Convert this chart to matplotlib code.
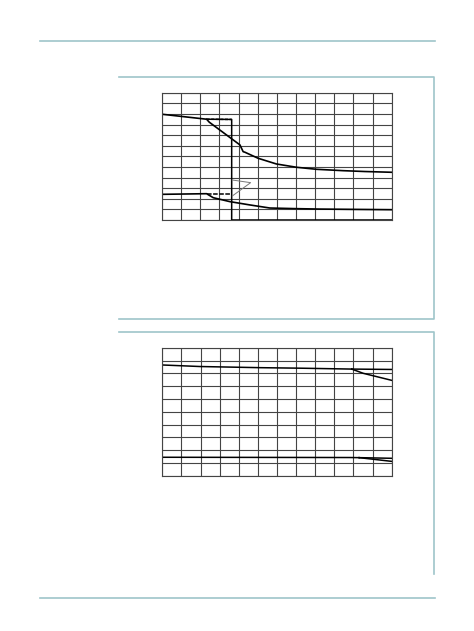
import matplotlib
matplotlib.use("Agg")
import matplotlib.pyplot as plt
from matplotlib.lines import Line2D
import numpy as np

# ---- Chart 1 data (arbitrary units; x 0..120, y 0..12) ----
c1_upper_x = [0, 23.3, 24.7, 40.7, 42.4, 43.3, 50.2, 59.8, 70.3, 80.7, 94.6, 106, 119.8]
c1_upper_y = [9.97, 9.5, 9.22, 7.08, 6.44, 6.39, 5.82, 5.28, 4.97, 4.78, 4.65, 4.57, 4.5]
c1_lower_x = [0, 23.3, 26.8, 35.5, 45.9, 56.3, 70.0, 82.4, 100, 119.8]
c1_lower_y = [2.42, 2.48, 2.1, 1.73, 1.42, 1.13, 1.07, 1.03, 1.0, 0.97]
c1_step_x = [23.3, 36.4, 36.4, 120]
c1_step_y = [9.5, 9.48, 0, 0]
c1_lowdash_x = [23.3, 36.4]
c1_lowdash_y = [2.48, 2.48]
c1_pointer_x = [36.7, 46.3, 36.7]
c1_pointer_y = [3.77, 3.52, 2.26]

# ---- Chart 2 data (x 0..120, y 0..10) ----
c2_upper_x = [0, 19.7, 51.1, 71.9, 99.1]
c2_upper_y = [8.65, 8.53, 8.44, 8.4, 8.33]
c2_upper_flat_x = [99.1, 120]
c2_upper_flat_y = [8.33, 8.3]
c2_upper_drop_x = [99.1, 105.1, 120]
c2_upper_drop_y = [8.33, 8.0, 7.45]
c2_lower_x = [0, 50, 98.1, 103]
c2_lower_y = [1.44, 1.43, 1.42, 1.41]
c2_lower_flat_x = [103, 120]
c2_lower_flat_y = [1.41, 1.36]
c2_lower_drop_x = [103, 120]
c2_lower_drop_y = [1.41, 1.12]

W, H = 474, 631
fig = plt.figure(figsize=(W / 100, H / 100), dpi=100)
fig.patch.set_facecolor("white")

teal = "#9ec5ca"

def px_line(xs, ys, lw=1.2, color=teal):
    fig.add_artist(Line2D([x / W for x in xs], [1 - y / H for y in ys],
                          transform=fig.transFigure, color=color, lw=lw))

# page rules
px_line([40, 435], [41, 41])
px_line([40, 435], [598.3, 598.3])
# box 1
px_line([119.3, 434.3, 434.3, 119.3], [76.7, 76.7, 319.3, 319.3])
# box 2
px_line([119.3, 434.3, 434.3], [332.3, 332.3, 574.3])

grid_col = "#444444"

def style_axes(ax, ymax):
    ax.set_xlim(0, 120)
    ax.set_ylim(0, ymax)
    ax.set_xticks(np.arange(0, 121, 10))
    ax.set_yticks(np.arange(0, ymax + 1, 1))
    ax.grid(True, color=grid_col, lw=0.8)
    ax.tick_params(length=0, labelbottom=False, labelleft=False)
    for s in ax.spines.values():
        s.set_color(grid_col)
        s.set_linewidth(0.8)
    ax.set_axisbelow(True)

# Chart 1
ax1 = fig.add_axes([162 / W, 1 - 220 / H, 229.7 / W, 127.3 / H])
style_axes(ax1, 12)
ax1.plot(c1_upper_x, c1_upper_y, color="black", lw=1.2)
ax1.plot(c1_lower_x, c1_lower_y, color="black", lw=1.2)
ax1.plot(c1_step_x, c1_step_y, color="black", lw=1.1, clip_on=False)
ax1.plot(c1_step_x[:2], c1_step_y[:2], color="black", lw=1.1, ls=(0, (2, 1)))
ax1.plot(c1_lowdash_x, c1_lowdash_y, color="black", lw=1.1, ls=(0, (3, 1)))
ax1.plot(c1_pointer_x, c1_pointer_y, color="#777777", lw=0.7)

# Chart 2
ax2 = fig.add_axes([162.3 / W, 1 - 475.7 / H, 229.4 / W, 128 / H])
style_axes(ax2, 10)
for xs, ys in [(c2_upper_x, c2_upper_y), (c2_upper_flat_x, c2_upper_flat_y),
               (c2_upper_drop_x, c2_upper_drop_y), (c2_lower_x, c2_lower_y),
               (c2_lower_flat_x, c2_lower_flat_y), (c2_lower_drop_x, c2_lower_drop_y)]:
    ax2.plot(xs, ys, color="black", lw=1.1)

fig.savefig("out.png", dpi=100, facecolor="white")
